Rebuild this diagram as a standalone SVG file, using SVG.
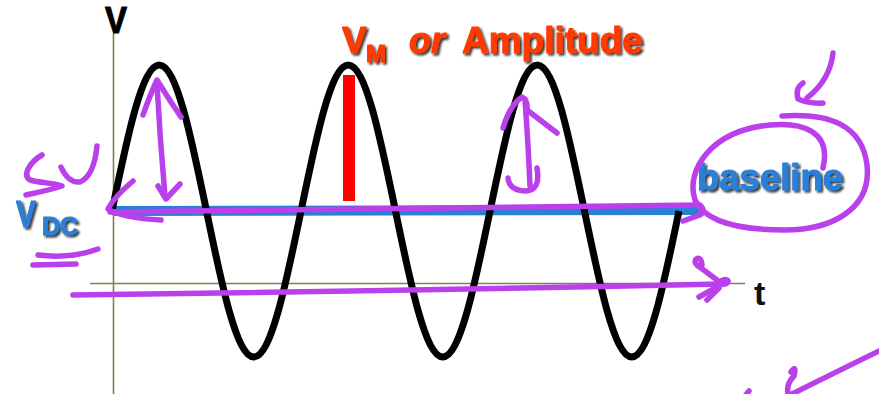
<svg xmlns="http://www.w3.org/2000/svg" width="879" height="394" viewBox="0 0 879 394">
<defs>
<filter id="sh" x="-10%" y="-20%" width="130%" height="150%">
<feDropShadow dx="2" dy="2" stdDeviation="1" flood-color="#111" flood-opacity="0.85"/>
</filter>
</defs>
<style>
.ax{stroke:#7f7f52;stroke-width:1.6;fill:none}
.wave{stroke:#000;stroke-width:7;fill:none;stroke-linejoin:round}
.pen{stroke:#ba40ec;stroke-width:5.5;fill:none;stroke-linecap:round;stroke-linejoin:round}
.lbl{font-family:"Liberation Sans",Arial,sans-serif;font-weight:bold;stroke-width:1.1;stroke-linejoin:round}
.red{fill:#ff3a06;stroke:#ff3a06}
.blue{fill:#2a7fd6;stroke:#2a7fd6}
.blk{fill:#000;stroke:#000}
</style>
<rect width="879" height="394" fill="#fff"/>
<g id="axes">
<line class="ax" x1="113.5" y1="33" x2="113.5" y2="394"/>
<line class="ax" x1="90" y1="283.5" x2="745" y2="283.5"/>
<text class="lbl blk" x="105" y="33" font-size="36" textLength="22" lengthAdjust="spacingAndGlyphs">V</text>
<text class="lbl" x="754" y="305" font-size="34" fill="#111">t</text>
</g>
<g id="baseline-line">
<line x1="115" y1="211" x2="699" y2="210" stroke="#2a7fd6" stroke-width="10" stroke-linecap="round"/>
</g>
<g id="wave">
<path class="wave" d="M112,211 c15.41,-74.8 30.15,-146 47.25,-146 c17.1,0 31.84,71.2 47.25,146 c15.41,74.8 30.15,146 47.25,146 c17.1,0 31.84,-71.2 47.25,-146 c15.41,-74.8 30.15,-146 47.25,-146 c17.1,0 31.84,71.2 47.25,146 c15.41,74.8 30.15,146 47.25,146 c17.1,0 31.84,-71.2 47.25,-146 c15.41,-74.8 30.15,-146 47.25,-146 c17.1,0 31.84,71.2 47.25,146 c15.41,74.8 30.15,146 47.25,146 c17.1,0 31.84,-71.2 47.25,-146"/>
</g>
<g id="amplitude-bar">
<rect x="343" y="75" width="12" height="126" fill="#ff0000"/>
</g>
<g id="labels" filter="url(#sh)">
<text class="lbl red" x="342" y="53" font-size="37">V</text>
<text class="lbl red" x="366" y="62" font-size="24">M</text>
<text class="lbl red" x="409" y="53" font-size="36" font-style="italic">or</text>
<text class="lbl red" x="462" y="53" font-size="37">Amplitude</text>
<text class="lbl blue" x="16" y="227" font-size="37" textLength="20" lengthAdjust="spacingAndGlyphs">V</text>
<text class="lbl blue" x="42" y="235" font-size="25">DC</text>
<text class="lbl blue" x="697" y="190" font-size="36.5">baseline</text>
</g>
<g id="annotations">
<path class="pen" d="M110,212 L700,205 Q706,211 700,215 L683,221"/>
<path class="pen" d="M133,181 Q114,197 108,209 Q122,218 161,220"/>
<path class="pen" d="M73,295 Q400,291 721,284"/>
<ellipse cx="724" cy="282" rx="7" ry="5" fill="#ba40ec" transform="rotate(-15 724 282)"/>
<path class="pen" d="M717,280 L701,268 Q693,264 696,259 Q701,256 702,265"/>
<path class="pen" d="M717,287 L699,297"/>
<path class="pen" d="M719,288 L707,300"/>
<path class="pen" d="M143,115 Q150,95 157,80 Q168,98 181,117"/>
<path class="pen" d="M157,84 Q160,140 165,196"/>
<path class="pen" d="M158,186 L166,199 L180,184"/>
<path class="pen" d="M503,128 Q510,105 522,97 Q528,100 527,110 L557,133"/>
<path class="pen" d="M525,100 Q528,140 530,186"/>
<path class="pen" d="M537,168 Q541,191 525,191 Q509,190 508,178"/>
<path class="pen" d="M42,155 C30,162 22,175 30,180 C40,183 55,183 62,186 C50,190 35,193 26,195"/>
<path class="pen" d="M61,167 Q68,183 80,182 Q94,176 97,146"/>
<path class="pen" d="M38,255 Q70,259 98,249"/>
<path class="pen" d="M33,265 L76,264"/>
<path class="pen" d="M782,116 C830,113 862,125 867,165 C872,210 830,230 785,230 C740,230 705,222 695,200 C685,170 712,130 770,125 C800,122 832,130 823,168"/>
<path class="pen" d="M833,53 Q830,80 807,98"/>
<path class="pen" d="M803,83 Q795,88 798,99 Q810,104 823,103"/>
<path class="pen" d="M881,350 Q840,370 790,395"/>
<path class="pen" d="M791,372 Q797,364 794,376 Q786,384 788,394"/>
<path class="pen" d="M745,396 L749,391"/>
</g>
</svg>
